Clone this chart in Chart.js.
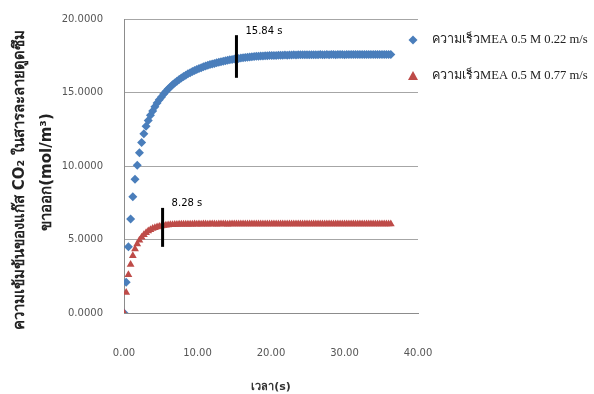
<!DOCTYPE html>
<html>
<head>
<meta charset="utf-8">
<script src="https://cdn.jsdelivr.net/npm/chart.js@4.4.1/dist/chart.umd.min.js"></script>
<style>
  html, body { margin: 0; padding: 0; background: #fff; }
  #wrap { width: 594px; height: 394px; }
</style>
</head>
<body>
<div id="wrap"><canvas id="myChart" width="594" height="394"></canvas></div>
<script>
// time (s)
const times = [
  0, 0.3, 0.6, 0.9, 1.2, 1.5, 1.8, 2.1, 2.4, 2.7,
  3.0, 3.3, 3.6, 3.9, 4.2, 4.5, 4.8, 5.1, 5.4, 5.7,
  6.0, 6.3, 6.6, 6.9, 7.2, 7.5, 7.8, 8.1, 8.4, 8.7,
  9.0, 9.3, 9.6, 9.9, 10.2, 10.5, 10.8, 11.1, 11.4, 11.7,
  12.0, 12.3, 12.6, 12.9, 13.2, 13.5, 13.8, 14.1, 14.4, 14.7,
  15.0, 15.3, 15.6, 15.9, 16.2, 16.5, 16.8, 17.1, 17.4, 17.7,
  18.0, 18.3, 18.6, 18.9, 19.2, 19.5, 19.8, 20.1, 20.4, 20.7,
  21.0, 21.3, 21.6, 21.9, 22.2, 22.5, 22.8, 23.1, 23.4, 23.7,
  24.0, 24.3, 24.6, 24.9, 25.2, 25.5, 25.8, 26.1, 26.4, 26.7,
  27.0, 27.3, 27.6, 27.9, 28.2, 28.5, 28.8, 29.1, 29.4, 29.7,
  30.0, 30.3, 30.6, 30.9, 31.2, 31.5, 31.8, 32.1, 32.4, 32.7,
  33.0, 33.3, 33.6, 33.9, 34.2, 34.5, 34.8, 35.1, 35.4, 35.7,
  36.0, 36.3
];

// CO2 concentration, 0.22 m/s
const conc022 = [
  0, 2.10, 4.50, 6.40, 7.90, 9.10, 10.05, 10.90, 11.60, 12.20,
  12.70, 13.10, 13.45, 13.75, 14.03, 14.28, 14.50, 14.70, 14.90, 15.07,
  15.23, 15.38, 15.52, 15.65, 15.77, 15.88, 15.99, 16.09, 16.18, 16.27,
  16.35, 16.43, 16.50, 16.57, 16.63, 16.69, 16.75, 16.80, 16.85, 16.90,
  16.94, 16.98, 17.02, 17.06, 17.10, 17.13, 17.16, 17.19, 17.22, 17.25,
  17.28, 17.30, 17.32, 17.34, 17.36, 17.38, 17.40, 17.42, 17.43, 17.45,
  17.46, 17.47, 17.48, 17.49, 17.50, 17.50, 17.51, 17.51, 17.52, 17.52,
  17.53, 17.54, 17.54, 17.55, 17.54, 17.55, 17.55, 17.56, 17.55, 17.56,
  17.56, 17.56, 17.57, 17.56, 17.57, 17.57, 17.56, 17.57, 17.57, 17.58,
  17.57, 17.57, 17.58, 17.57, 17.58, 17.58, 17.57, 17.58, 17.58, 17.58,
  17.57, 17.58, 17.58, 17.58, 17.59, 17.58, 17.58, 17.58, 17.59, 17.58,
  17.58, 17.59, 17.58, 17.58, 17.59, 17.58, 17.59, 17.58, 17.58, 17.59,
  17.58, 17.58
];

// CO2 concentration, 0.77 m/s
const conc077 = [
  0, 1.40, 2.60, 3.30, 3.90, 4.35, 4.70, 4.95, 5.15, 5.32,
  5.46, 5.57, 5.66, 5.74, 5.80, 5.85, 5.89, 5.92, 5.95, 5.97,
  5.99, 6.00, 6.01, 6.02, 6.02, 6.03, 6.03, 6.04, 6.03, 6.04,
  6.04, 6.04, 6.05, 6.04, 6.05, 6.04, 6.05, 6.05, 6.04, 6.05,
  6.05, 6.05, 6.04, 6.05, 6.05, 6.05, 6.05, 6.04, 6.05, 6.05,
  6.05, 6.05, 6.05, 6.06, 6.05, 6.05, 6.05, 6.05, 6.06, 6.05,
  6.05, 6.06, 6.05, 6.05, 6.05, 6.06, 6.05, 6.05, 6.06, 6.05,
  6.05, 6.06, 6.05, 6.06, 6.05, 6.05, 6.06, 6.05, 6.06, 6.05,
  6.06, 6.05, 6.06, 6.05, 6.06, 6.06, 6.05, 6.06, 6.05, 6.06,
  6.06, 6.05, 6.06, 6.06, 6.05, 6.06, 6.06, 6.05, 6.06, 6.06,
  6.06, 6.05, 6.06, 6.06, 6.06, 6.05, 6.06, 6.06, 6.06, 6.05,
  6.06, 6.06, 6.06, 6.06, 6.05, 6.06, 6.06, 6.06, 6.06, 6.06,
  6.06, 6.06
];

const seriesNames = [
  "ความเร็วMEA 0.5 M 0.22 m/s",
  "ความเร็วMEA 0.5 M 0.77 m/s"
];

const yTitle = ["ความเข้มข้นของแก๊ส CO₂ ในสารละลายดูดซึม", "ขาออก(mol/m³)"];
const xTitle = "เวลา(s)";

// vertical markers at the settling time of each curve
const markX = [15.3, 5.25];
const markLow = [16.0, 4.5];
const markHigh = [18.9, 7.15];
const markText = ["15.84 s", "8.28 s"];

const yTicks = [0, 5, 10, 15, 20];
const xTicks = [0, 10, 20, 30, 40];

const blue = "#4a7ebb";
const red = "#be4b48";

function toPoints(ys) {
  return times.map((t, i) => ({ x: t, y: ys[i] }));
}

// black bars + time labels
const markerPlugin = {
  id: "markers",
  afterDatasetsDraw(chart) {
    const ctx = chart.ctx;
    const xs = chart.scales.x, ys = chart.scales.y;
    ctx.save();
    for (let i = 0; i < markX.length; i++) {
      const px = xs.getPixelForValue(markX[i]);
      const top = ys.getPixelForValue(markHigh[i]);
      const bot = ys.getPixelForValue(markLow[i]);
      ctx.strokeStyle = "#000";
      ctx.lineWidth = 3;
      ctx.beginPath();
      ctx.moveTo(px, top);
      ctx.lineTo(px, bot);
      ctx.stroke();
      ctx.fillStyle = "#000";
      ctx.font = "10px 'DejaVu Sans'";
      ctx.textAlign = "left";
      ctx.textBaseline = "middle";
      ctx.fillText(markText[i], px + 9, top - 4);
    }
    ctx.restore();
  }
};

// rotated two-line y title
const yTitlePlugin = {
  id: "yTitle",
  afterDraw(chart) {
    const ctx = chart.ctx;
    const area = chart.chartArea;
    const cy = (area.top + area.bottom) / 2 + 14;
    ctx.save();
    ctx.fillStyle = "#222";
    ctx.font = "bold 15px 'DejaVu Sans'";
    ctx.textAlign = "center";
    ctx.textBaseline = "middle";
    [20, 47].forEach((x, i) => {
      ctx.save();
      ctx.translate(x, cy - i * 8);
      ctx.rotate(-Math.PI / 2);
      ctx.fillText(yTitle[i], 0, 0);
      ctx.restore();
    });
    ctx.restore();
  }
};

// legend on the right
const legendPlugin = {
  id: "sideLegend",
  afterDraw(chart) {
    const ctx = chart.ctx;
    ctx.save();
    const rows = [40, 76];
    chart.data.datasets.forEach((ds, i) => {
      const y = rows[i];
      ctx.fillStyle = ds.backgroundColor;
      ctx.beginPath();
      if (ds.pointStyle === "rectRot") {
        ctx.moveTo(413, y - 4.5); ctx.lineTo(417.5, y);
        ctx.lineTo(413, y + 4.5); ctx.lineTo(408.5, y);
      } else {
        ctx.moveTo(413, y - 5); ctx.lineTo(418, y + 4); ctx.lineTo(408, y + 4);
      }
      ctx.closePath();
      ctx.fill();
      ctx.fillStyle = "#222";
      ctx.font = "12.6px 'Liberation Serif'";
      ctx.textAlign = "left";
      ctx.textBaseline = "middle";
      ctx.fillText(seriesNames[i], 432, y);
    });
    ctx.restore();
  }
};

const ctx = document.getElementById("myChart").getContext("2d");
const chart = new Chart(ctx, {
  type: "scatter",
  data: {
    datasets: [
      {
        label: seriesNames[0],
        data: toPoints(conc022),
        pointStyle: "rectRot",
        pointRadius: 4.5,
        backgroundColor: blue,
        borderColor: blue,
        borderWidth: 0,
        order: 2
      },
      {
        label: seriesNames[1],
        data: toPoints(conc077),
        pointStyle: "triangle",
        pointRadius: 4.5,
        backgroundColor: red,
        borderColor: red,
        borderWidth: 0,
        order: 1
      }
    ]
  },
  options: {
    responsive: false,
    animation: false,
    layout: { padding: { top: 19, right: 176, left: 0, bottom: 0 } },
    plugins: {
      legend: { display: false },
      tooltip: { enabled: false }
    },
    scales: {
      x: {
        type: "linear",
        min: 0,
        max: 40,
        afterBuildTicks(scale) { scale.ticks = xTicks.map(v => ({ value: v })); },
        afterFit(scale) { scale.height = 81; scale.paddingLeft = 0; scale.paddingRight = 0; },
        grid: { display: false },
        border: { display: true, color: "#8c8c8c", width: 1 },
        ticks: {
          padding: 26,
          color: "#555",
          font: { family: "'DejaVu Sans'", size: 10 },
          callback: v => v.toFixed(2)
        },
        title: {
          display: true,
          text: xTitle,
          color: "#333",
          font: { family: "'DejaVu Sans'", size: 11, weight: "bold" },
          padding: { top: 0, bottom: 0 }
        }
      },
      y: {
        min: 0,
        max: 20,
        afterBuildTicks(scale) { scale.ticks = yTicks.map(v => ({ value: v })); },
        afterFit(scale) { scale.width = 124; scale.paddingTop = 6; scale.paddingBottom = 6; },
        grid: { color: "#a6a6a6", lineWidth: 1, drawTicks: false },
        border: { display: true, color: "#8c8c8c", width: 1 },
        ticks: {
          padding: 21,
          color: "#555",
          font: { family: "'DejaVu Sans'", size: 10 },
          callback: v => v.toFixed(4)
        },
        title: { display: false }
      }
    }
  },
  plugins: [markerPlugin, yTitlePlugin, legendPlugin]
});
</script>
</body>
</html>
